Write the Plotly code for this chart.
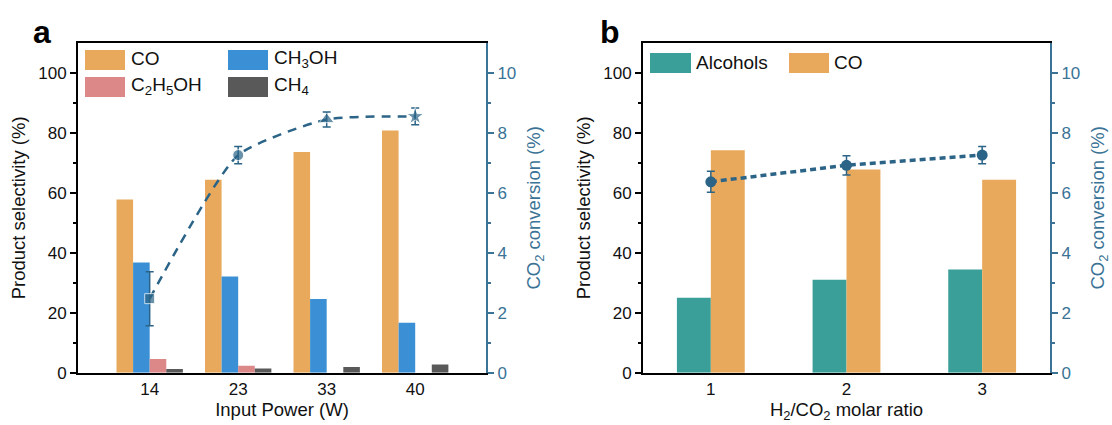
import plotly.graph_objects as go
from plotly.subplots import make_subplots

# ---------------- data ----------------
power_labels = ["14", "23", "33", "40"]
sel_CO_a = [57.8, 64.4, 73.6, 80.8]
sel_CH3OH_a = [36.8, 32.1, 24.6, 16.7]
sel_C2H5OH_a = [4.6, 2.3, 0.0, 0.0]
sel_CH4_a = [1.2, 1.4, 1.9, 2.7]
conv_a = [2.47, 7.26, 8.45, 8.55]
conv_err_a = [0.90, 0.29, 0.25, 0.28]

ratio_labels = ["1", "2", "3"]
sel_alcohols_b = [25.0, 31.0, 34.4]
sel_CO_b = [74.2, 67.8, 64.4]
conv_b = [6.37, 6.92, 7.26]
conv_err_b = [0.35, 0.32, 0.29]

# ---------------- style ----------------
W, H = 1112, 425
FONT = "Liberation Sans, Arial, sans-serif"
C_CO = "#E8A95C"
C_MEOH = "#3B8FD4"
C_ETOH = "#DC8888"
C_CH4 = "#595959"
C_ALC = "#3A9E99"
C_LINE = "#2B6487"
C_RAX = "#3A7396"
TICK_SIZE = 17
TITLE_SIZE = 18.5


def px_x(p):
    return p / W


def px_y(p):
    return 1 - p / H


fig = make_subplots(rows=1, cols=2, specs=[[{"secondary_y": True}, {"secondary_y": True}]])

# ---- panel a bars ----
bw_a = 0.1875
for vals, col, off, name in [
    (sel_CO_a, C_CO, -2 * bw_a, "CO"),
    (sel_CH3OH_a, C_MEOH, -bw_a, "CH3OH"),
    (sel_C2H5OH_a, C_ETOH, 0.0, "C2H5OH"),
    (sel_CH4_a, C_CH4, bw_a, "CH4"),
]:
    fig.add_trace(go.Bar(x=power_labels, y=vals, width=bw_a, offset=off, name=name,
                         marker=dict(color=col, line=dict(width=0)), showlegend=False),
                  row=1, col=1, secondary_y=False)

# ---- panel a conversion line ----
fig.add_trace(go.Scatter(x=power_labels, y=conv_a, mode="lines",
                         line=dict(color=C_LINE, width=2.5, dash="9px,7px", shape="spline", smoothing=0.55),
                         showlegend=False, hoverinfo="skip"),
              row=1, col=1, secondary_y=True)
fig.add_trace(go.Scatter(x=power_labels, y=conv_a, mode="markers",
                         marker=dict(color=C_LINE, size=[10, 11, 13, 13],
                                     symbol=["square", "circle", "triangle-up", "star"]),
                         error_y=dict(type="data", array=conv_err_a, color=C_LINE, thickness=1.5, width=4),
                         showlegend=False),
              row=1, col=1, secondary_y=True)

# ---- panel b bars ----
bw_b = 0.25
for vals, col, off, name in [
    (sel_alcohols_b, C_ALC, -bw_b, "Alcohols"),
    (sel_CO_b, C_CO, 0.0, "CO"),
]:
    fig.add_trace(go.Bar(x=ratio_labels, y=vals, width=bw_b, offset=off, name=name,
                         marker=dict(color=col, line=dict(width=0)), showlegend=False),
                  row=1, col=2, secondary_y=False)

fig.add_trace(go.Scatter(x=ratio_labels, y=conv_b, mode="lines+markers",
                         line=dict(color=C_LINE, width=3.5, dash="6px,4px"),
                         marker=dict(color=C_LINE, size=11, symbol="circle"),
                         error_y=dict(type="data", array=conv_err_b, color=C_LINE, thickness=1.5, width=4),
                         showlegend=False),
              row=1, col=2, secondary_y=True)

# ---------------- axes ----------------
ydom = [px_y(372.7), px_y(43)]
xa_dom = [px_x(78), px_x(486)]
xb_dom = [px_x(643), px_x(1050)]

common_x = dict(type="category", showline=True, linecolor="black", linewidth=2, mirror=True,
                ticks="", showgrid=False, zeroline=False, automargin=False,
                tickfont=dict(size=TICK_SIZE, color="#111", family=FONT))
common_yl = dict(range=[0, 110], tickvals=[0, 20, 40, 60, 80, 100], ticks="outside", ticklen=6,
                 tickwidth=1.5, tickcolor="black", showline=True, linecolor="black", linewidth=2,
                 showgrid=False, zeroline=False, domain=ydom, automargin=False,
                 minor=dict(tickvals=[10, 30, 50, 70, 90], ticks="outside", ticklen=3, tickwidth=1.5,
                            tickcolor="black"),
                 tickfont=dict(size=TICK_SIZE, color="#111", family=FONT),
                 title=dict(text="Product selectivity (%)", font=dict(size=TITLE_SIZE, color="#111", family=FONT),
                            standoff=8))
common_yr = dict(range=[0, 11], tickvals=[0, 2, 4, 6, 8, 10], ticks="outside", ticklen=6,
                 tickwidth=1.5, tickcolor=C_RAX, showline=True, linecolor=C_RAX, linewidth=2,
                 showgrid=False, zeroline=False, automargin=False,
                 minor=dict(tickvals=[1, 3, 5, 7, 9], ticks="outside", ticklen=3, tickwidth=1.5,
                            tickcolor=C_RAX),
                 tickfont=dict(size=TICK_SIZE, color=C_RAX, family=FONT),
                 title=dict(text="CO<sub>2</sub> conversion (%)", font=dict(size=TITLE_SIZE, color=C_RAX, family=FONT),
                            standoff=12))

fig.update_layout(
    xaxis=dict(common_x, domain=xa_dom, range=[-0.81, 3.8],
               title=dict(text="Input Power (W)", font=dict(size=TITLE_SIZE, color="#111", family=FONT),
                          standoff=2)),
    xaxis2=dict(common_x, domain=xb_dom, range=[-0.5, 2.5],
                title=dict(text="H<sub>2</sub>/CO<sub>2</sub> molar ratio",
                           font=dict(size=TITLE_SIZE, color="#111", family=FONT), standoff=2)),
    yaxis=dict(common_yl),
    yaxis2=dict(common_yr),
    yaxis3=dict(common_yl),
    yaxis4=dict(common_yr),
)

# ---------------- manual legends & panel letters ----------------
shapes = []
annotations = []


def swatch(x0, x1, y0, y1, color):
    shapes.append(dict(type="rect", xref="paper", yref="paper", x0=px_x(x0), x1=px_x(x1),
                       y0=px_y(y1), y1=px_y(y0), fillcolor=color, line=dict(width=0), layer="above"))


def label(x, y, text, size=19, color="#111"):
    annotations.append(dict(xref="paper", yref="paper", x=px_x(x), y=px_y(y), text=text,
                            showarrow=False, xanchor="left", yanchor="middle",
                            font=dict(size=size, color=color, family=FONT)))


swatch(85, 125, 50, 70, C_CO)
label(129, 59, "CO")
swatch(228, 268, 50, 70, C_MEOH)
label(272, 59, "CH<sub>3</sub>OH")
swatch(85, 125, 77, 97, C_ETOH)
label(129, 86, "C<sub>2</sub>H<sub>5</sub>OH")
swatch(228, 268, 77, 97, C_CH4)
label(272, 86, "CH<sub>4</sub>")

swatch(650, 691, 53, 73, C_ALC)
label(694, 62, "Alcohols")
swatch(789, 829, 53, 73, C_CO)
label(832, 62, "CO")

annotations.append(dict(xref="paper", yref="paper", x=px_x(42), y=px_y(32), text="<b>a</b>",
                        showarrow=False, xanchor="center", yanchor="middle",
                        font=dict(size=32, color="black", family=FONT)))
annotations.append(dict(xref="paper", yref="paper", x=px_x(610), y=px_y(32), text="<b>b</b>",
                        showarrow=False, xanchor="center", yanchor="middle",
                        font=dict(size=32, color="black", family=FONT)))

fig.update_layout(
    width=W, height=H, margin=dict(l=0, r=0, t=0, b=0, autoexpand=False),
    paper_bgcolor="white", plot_bgcolor="white",
    barmode="overlay", showlegend=False,
    font=dict(family=FONT),
    shapes=shapes, annotations=annotations,
)

fig.write_html("out.html")
